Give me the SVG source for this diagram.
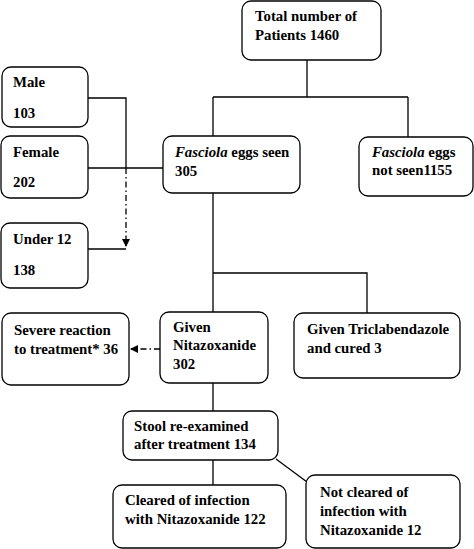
<svg xmlns="http://www.w3.org/2000/svg" width="474" height="549" viewBox="0 0 474 549">
<defs>
<style>
.b{fill:#fff;stroke:#000;stroke-width:1.3}
.t{font-family:"Liberation Serif",serif;font-weight:bold;font-size:14.8px;fill:#000}
.c{fill:none;stroke:#000;stroke-width:1.3}
.d{fill:none;stroke:#000;stroke-width:1.3;stroke-dasharray:6,3,1.5,3}
</style>
<marker id="ah" markerWidth="8" markerHeight="8" refX="7" refY="4" orient="auto" markerUnits="userSpaceOnUse">
<path d="M0,0 L8,4 L0,8 Z" fill="#000"/>
</marker>
</defs>
<rect width="474" height="549" fill="#fff"/>
<g id="connectors">
<path class="c" d="M307,60 V97 M213,97 H408 M213,97 V136 M408,97 V137"/>
<path class="c" d="M88,98 H126 V168 M88,168 H163"/>
<path class="d" d="M126,168 V246" marker-end="url(#ah)"/>
<path class="c" d="M88,249 H126"/>
<path class="c" d="M213,193 V312 M213,273 H367 V313"/>
<path class="d" d="M160,349 H131" marker-end="url(#ah)"/>
<path class="c" d="M213,383 V411 M213,460 V485 M276,459 L307,482"/>
</g>
<g id="total"><rect class="b" x="242" y="1" width="139" height="59" rx="9"/>
<text class="t" x="255" y="21">Total number of</text><text class="t" x="255" y="40">Patients 1460</text></g>
<g id="male"><rect class="b" x="2" y="67" width="86" height="60" rx="9"/>
<text class="t" x="13" y="87">Male</text><text class="t" x="13" y="118">103</text></g>
<g id="female"><rect class="b" x="1" y="136" width="87" height="62" rx="9"/>
<text class="t" x="13" y="157">Female</text><text class="t" x="13" y="187">202</text></g>
<g id="under12"><rect class="b" x="1" y="223" width="87" height="65" rx="9"/>
<text class="t" x="13" y="244">Under 12</text><text class="t" x="13" y="275">138</text></g>
<g id="seen"><rect class="b" x="163" y="136" width="137" height="57" rx="9"/>
<text class="t" x="175" y="157"><tspan font-style="italic">Fasciola</tspan> eggs seen</text><text class="t" x="175" y="176">305</text></g>
<g id="notseen"><rect class="b" x="359" y="137" width="114" height="59" rx="9"/>
<text class="t" x="372" y="157"><tspan font-style="italic">Fasciola</tspan> eggs</text><text class="t" x="372" y="175">not seen1155</text></g>
<g id="severe"><rect class="b" x="2" y="313" width="127" height="72" rx="9"/>
<text class="t" x="14" y="335">Severe reaction</text><text class="t" x="14" y="354">to treatment* 36</text></g>
<g id="nitaz"><rect class="b" x="160" y="312" width="108" height="71" rx="9"/>
<text class="t" x="173" y="332">Given</text><text class="t" x="173" y="350">Nitazoxanide</text><text class="t" x="173" y="369">302</text></g>
<g id="tricla"><rect class="b" x="294" y="313" width="166" height="65" rx="9"/>
<text class="t" x="307" y="334">Given Triclabendazole</text><text class="t" x="307" y="353">and cured 3</text></g>
<g id="stool"><rect class="b" x="123" y="411" width="155" height="49" rx="9"/>
<text class="t" x="134" y="431">Stool re-examined</text><text class="t" x="134" y="449">after treatment 134</text></g>
<g id="cleared"><rect class="b" x="113" y="485" width="173" height="63" rx="9"/>
<text class="t" x="125" y="505">Cleared of infection</text><text class="t" x="125" y="524">with Nitazoxanide 122</text></g>
<g id="notcleared"><rect class="b" x="306" y="475" width="154" height="73" rx="9"/>
<text class="t" x="320" y="497">Not cleared of</text><text class="t" x="320" y="516">infection with</text><text class="t" x="320" y="535">Nitazoxanide 12</text></g>
</svg>
